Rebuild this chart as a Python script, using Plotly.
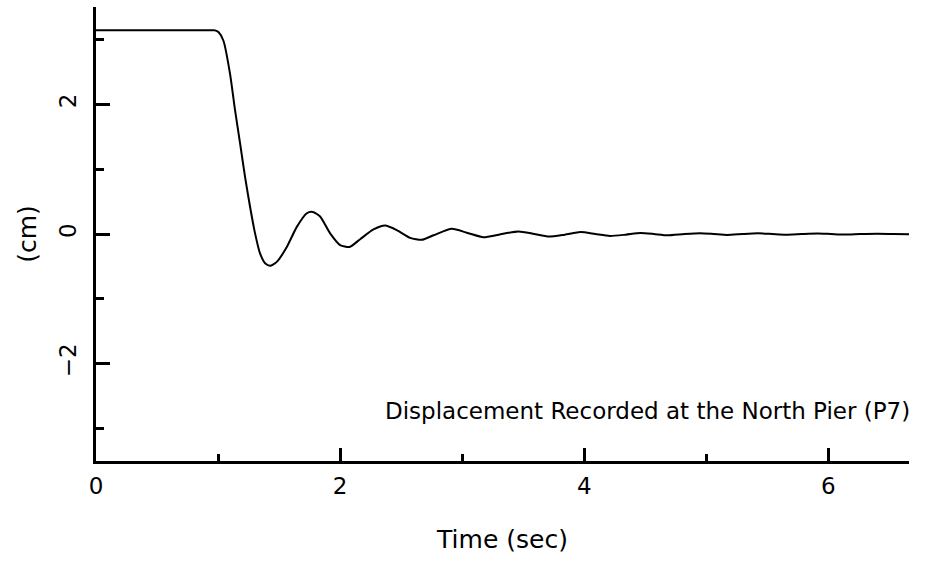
import plotly.graph_objects as go

# Displacement trace at the north pier (P7): time in seconds, displacement in cm
time_s = [0.0, 0.50, 0.93, 0.975, 1.005, 1.044, 1.098, 1.139, 1.180, 1.221, 1.262, 1.303,
          1.344, 1.385, 1.426, 1.481, 1.563, 1.645, 1.727, 1.776, 1.836, 1.918,
          2.000, 2.077, 2.164, 2.273, 2.369, 2.464, 2.574, 2.669, 2.765, 2.915,
          3.038, 3.175, 3.300, 3.460, 3.590, 3.710, 3.840, 3.970, 4.090, 4.210,
          4.340, 4.460, 4.570, 4.680, 4.820, 4.950, 5.060, 5.170, 5.300, 5.420,
          5.540, 5.650, 5.780, 5.910, 6.020, 6.130, 6.260, 6.400, 6.530, 6.660]
disp_cm = [3.14, 3.14, 3.14, 3.14, 3.11, 2.98, 2.47, 1.91, 1.40, 0.88, 0.42, 0.01,
           -0.30, -0.45, -0.49, -0.43, -0.20, 0.11, 0.32, 0.34, 0.27, 0.01,
           -0.17, -0.20, -0.08, 0.07, 0.13, 0.06, -0.06, -0.09, -0.02, 0.08,
           0.02, -0.05, -0.01, 0.04, 0.00, -0.04, -0.01, 0.03, 0.00, -0.03,
           -0.01, 0.015, 0.00, -0.02, 0.00, 0.012, 0.00, -0.015, 0.00, 0.01,
           0.00, -0.01, 0.00, 0.008, 0.00, -0.008, 0.00, 0.005, 0.00, -0.004]

x_ticks = [0, 2, 4, 6]
y_ticks = [-2, 0, 2]
x_range = [0, 6.66]
y_range = [-3.5, 3.5]

FONT = "DejaVu Sans"

fig = go.Figure()
fig.add_trace(go.Scatter(
    x=time_s, y=disp_cm, mode="lines",
    line=dict(color="black", width=2, shape="spline", smoothing=0.6),
    showlegend=False, hoverinfo="skip",
))

fig.update_layout(
    width=925, height=561,
    margin=dict(l=96, r=16, t=7, b=100),
    paper_bgcolor="white", plot_bgcolor="white",
    font=dict(family=FONT, color="black", size=23),
    annotations=[dict(
        text="Displacement Recorded at the North Pier (P7)",
        xref="paper", yref="paper", x=(383 - 96) / 813, y=0.11,
        xanchor="left", yanchor="middle", showarrow=False,
        font=dict(family=FONT, size=23, color="black"),
    )],
)

fig.update_xaxes(
    range=x_range, tickvals=x_ticks, ticktext=[str(v) for v in x_ticks],
    showgrid=False, zeroline=False,
    showline=True, linecolor="black", linewidth=3,
    ticks="inside", ticklen=13, tickwidth=2.5, tickcolor="black",
    minor=dict(ticks="inside", ticklen=7, tickwidth=2.5, tickcolor="black",
               tickvals=[1, 3, 5]),
    tickfont=dict(size=23), ticklabelstandoff=2,
    title=dict(text="Time (sec)", font=dict(size=25), standoff=33),
)

fig.update_yaxes(
    range=y_range, tickvals=y_ticks,
    ticktext=["\u22122", "0", "2"],
    tickangle=-90,
    showgrid=False, zeroline=False,
    showline=True, linecolor="black", linewidth=3,
    ticks="inside", ticklen=14, tickwidth=2.5, tickcolor="black",
    minor=dict(ticks="inside", ticklen=8, tickwidth=2.5, tickcolor="black",
               tickvals=[-3, -1, 1, 3]),
    tickfont=dict(size=23), ticklabelstandoff=8,
    title=dict(text="(cm)", font=dict(size=25), standoff=12),
)

fig.write_html("out.html")
